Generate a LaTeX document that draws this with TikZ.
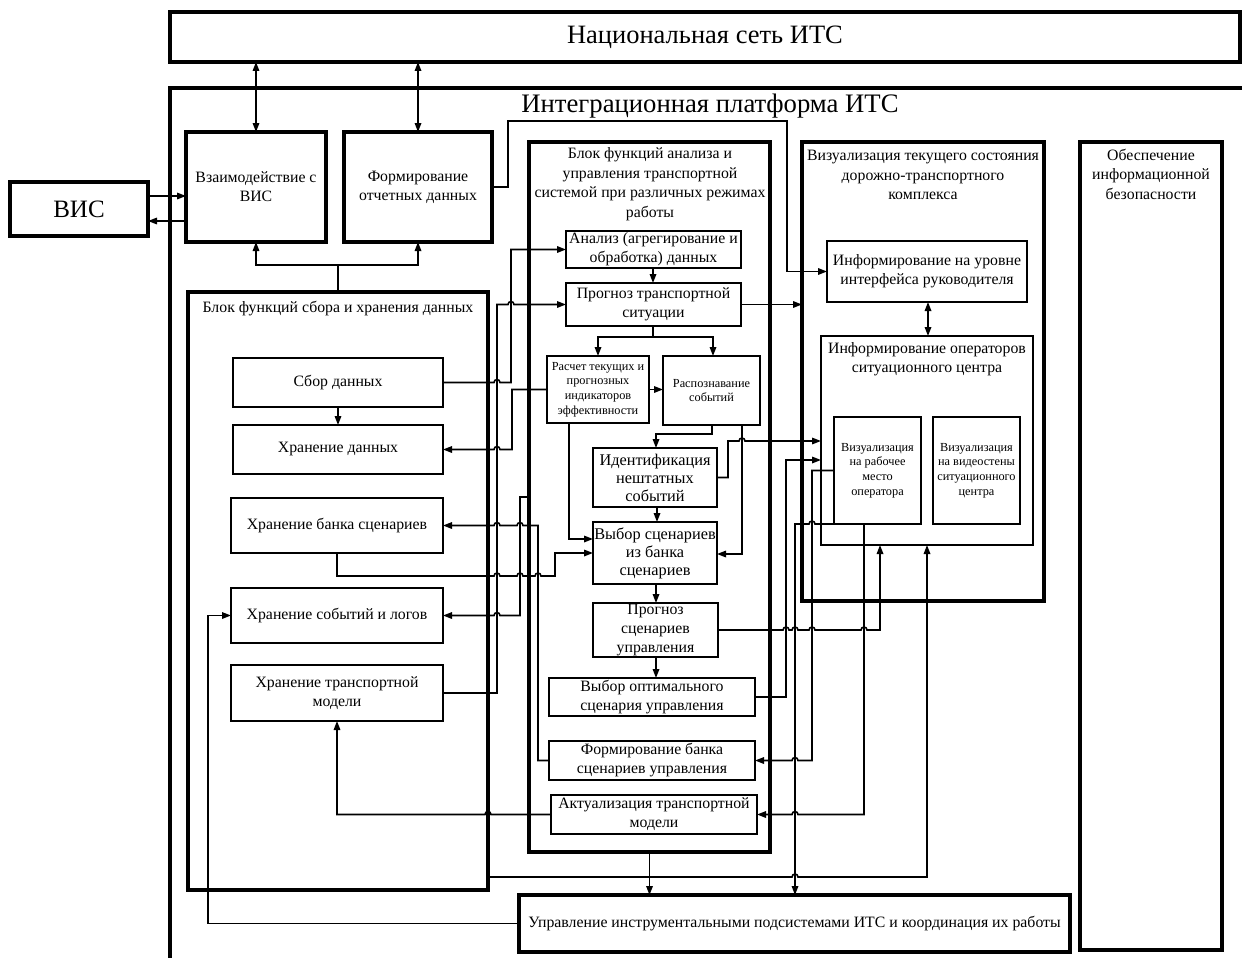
\documentclass[tikz,border=0pt]{standalone}
\usepackage{fontspec}
\setmainfont{Liberation Serif}
\usetikzlibrary{arrows.meta}
\newcommand\bx[7]{\node[#1,minimum width=#5pt-#3pt,minimum height=#6pt-#4pt] (#2) at ({(#3+#5)/2},{(#4+#6)/2}) {#7};}
\tikzset{
  blk/.style={draw,line width=3.1pt,inner sep=0pt,outer sep=0pt,align=center,font=\fontsize{15.8}{19}\selectfont},
  ibox/.style={draw,line width=2.5pt,inner sep=0pt,outer sep=0pt,align=center,font=\fontsize{15.8}{19}\selectfont},
  sfont/.style={font=\fontsize{12.3}{14.7}\selectfont},
  bfont/.style={font=\fontsize{16.3}{18}\selectfont},
  ttl/.style={align=center,inner sep=0pt,font=\fontsize{15.8}{19.5}\selectfont},
  wire/.style={line width=1.6pt},
  mytip/.tip={Triangle[length=9pt,width=6.5pt]},
  arr/.style={wire,-mytip},
  darr/.style={wire,mytip-mytip},
  hopr/.style args={#1/#2}{insert path={-- ({#1-3},#2) arc[start angle=180,end angle=0,radius=3pt]}},
  hopl/.style args={#1/#2}{insert path={-- ({#1+3},#2) arc[start angle=0,end angle=180,radius=3pt]}},
}
\begin{document}
\begin{tikzpicture}[x=1pt,y=-1pt]
\useasboundingbox (0,0) rectangle (1242,958);
% outer platform
\draw[line width=3.1pt] (170,965) -- (170,88) -- (1250,88);
\node[inner sep=0pt,font=\fontsize{26.7}{30}\selectfont] (plat) at (710,106) {Интеграционная платформа ИТС};
\bx{blk,font=\fontsize{26.5}{30}\selectfont}{natnet}{170}{12}{1240}{62}{Национальная сеть ИТС}
\bx{blk,font=\fontsize{25}{30}\selectfont}{vis}{10}{182}{148}{236}{ВИС}
\bx{blk}{vzaim}{186}{132}{326}{242}{Взаимодействие с\\ВИС}
\bx{blk}{form}{344}{132}{492}{242}{Формирование\\отчетных данных}
% left block
\bx{blk}{sblk}{188}{292}{488}{890}{}
\node[ttl] (sblkt) at (338,309) {Блок функций сбора и хранения данных};
\bx{ibox}{sbor}{233}{358}{443}{407}{Сбор данных}
\bx{ibox}{hran}{233}{425}{443}{474}{Хранение данных}
\bx{ibox}{bank}{231}{498}{443}{553}{Хранение банка сценариев}
\bx{ibox}{logs}{231}{588}{443}{643}{Хранение событий и логов}
\bx{ibox}{tmodel}{231}{665}{443}{721}{Хранение транспортной\\модели}
% center block
\bx{blk}{cblk}{529}{142}{770}{852}{}
\node[ttl] (cblkt) at (650,184) {Блок функций анализа и\\управления транспортной\\системой при различных режимах\\работы};
\bx{ibox}{analiz}{566}{231}{741}{268}{Анализ (агрегирование и\\обработка) данных}
\bx{ibox}{prognoz}{566}{283}{741}{326}{Прогноз транспортной\\ситуации}
\bx{ibox,sfont}{raschet}{547}{356}{649}{423}{Расчет текущих и\\прогнозных\\индикаторов\\эффективности}
\bx{ibox,sfont}{raspozn}{663}{356}{760}{425}{Распознавание\\событий}
\bx{ibox,bfont}{ident}{593}{448}{717}{507}{Идентификация\\нештатных\\событий}
\bx{ibox,bfont}{vybor}{593}{522}{717}{584}{Выбор сценариев\\из банка\\сценариев}
\bx{ibox}{progsc}{593}{603}{718}{657}{Прогноз\\сценариев\\управления}
\bx{ibox}{vybopt}{549}{678}{755}{716}{Выбор оптимального\\сценария управления}
\bx{ibox}{formbank}{549}{741}{755}{780}{Формирование банка\\сценариев управления}
\bx{ibox}{aktual}{551}{795}{757}{834}{Актуализация транспортной\\модели}
% visualisation block
\bx{blk}{vblk}{802}{142}{1044}{601}{}
\node[ttl] (vblkt) at (923,175) {Визуализация текущего состояния\\дорожно-транспортного\\комплекса};
\bx{ibox}{rukov}{827}{241}{1027}{302}{Информирование на уровне\\интерфейса руководителя}
\bx{ibox}{operators}{821}{336}{1033}{545}{}
\node[ttl] (operatorst) at (927,359) {Информирование операторов\\ситуационного центра};
\bx{ibox,sfont}{rab}{834}{417}{921}{524}{Визуализация\\на рабочее\\место\\оператора}
\bx{ibox,sfont}{video}{933}{417}{1020}{524}{Визуализация\\на видеостены\\ситуационного\\центра}
% security
\bx{blk}{sec}{1080}{142}{1222}{950}{}
\node[ttl] (sect) at (1151,174) {Обеспечение\\информационной\\безопасности};
% management
\bx{blk}{upr}{519}{895}{1070}{952}{Управление инструментальными подсистемами ИТС и координация их работы}

% ---- connectors ----
\draw[darr] (natnet.south -| vzaim.north) -- (vzaim.north);
\draw[darr] (natnet.south -| form.north) -- (form.north);
\draw[arr] (vis.east |- 0,196) -- (vzaim.west |- 0,196);
\draw[arr] (vzaim.west |- 0,221) -- (vis.east |- 0,221);
\draw[wire] (sblk.north) -- ++(0,-27);
\draw[darr] (vzaim.south) -- ++(0,23) -| (form.south);
\draw[arr] (form.east) -| (508,121) -| (787,250) |- (rukov.west);
% left side wires
\draw[arr] (sbor.east) [hopr=497/382.5] -- (511,382.5) |- (analiz.west);
\draw[arr] (tmodel.east) -- (497,693) -- (497,304.5) [hopr=511/304.5] -- (prognoz.west);
\draw[arr] (raschet.west) -- (512,389.5) -- (512,449.5) [hopl=497/449.5] -- (hran.east);
\draw[arr] (sbor.south) -- (hran.north);
\draw[arr] (bank.south) -- (337,576) [hopr=497/576] [hopr=520/576] [hopr=538/576] -- (555,576) |- (vybor.west);
\draw[arr] (formbank.west) -| (538,525.5) [hopl=520/525.5] [hopl=497/525.5] -- (bank.east);
\draw[arr] (cblk.west |- 0,497) -- (520,497) -- (520,615.5) [hopl=497/615.5] -- (logs.east);
\draw[arr] (aktual.west) [hopl=488/814.5] -| (tmodel.south);
\draw[arr] (sblk.east |- 0,877) [hopr=795/877] -| (operators.south);
\draw[arr] (cblk.south) -- (cblk.south |- upr.north);
\draw[arr] (upr.west) -| (208,615.5) -- (logs.west);
% center internal
\draw[arr] (analiz.south -| 653,0) -- (prognoz.north -| 653,0);
\draw[arr] (prognoz.south -| 653,0) -- (653,337) -| (598,356);
\draw[arr] (653,337) -| (713,356);
\draw[arr] (raschet.east) -- (raspozn.west |- raschet.east);
\draw[arr] (raspozn.south -| 712,0) -- (712,434) -| (656,448);
\draw[arr] (raschet.south -| 569,0) -- (569,539) -- (vybor.west |- 0,539);
\draw[arr] (raspozn.south -| 742,0) -- (742,554) -- (vybor.east |- 0,554);
\draw[arr] (ident.south -| 657,0) -- (vybor.north -| 657,0);
\draw[arr] (vybor.south -| 656,0) -- (progsc.north -| 656,0);
\draw[arr] (progsc.south -| 656,0) -- (vybopt.north -| 656,0);
% right side wires
\draw[arr] (prognoz.east) -- (vblk.west |- prognoz.east);
\draw[arr] (ident.east) -- (728,477.5) -- (728,441) [hopr=742/441] -- (operators.west |- 0,441);
\draw[arr] (vybopt.east) -| (786,460) -- (operators.west |- 0,460);
\draw[arr] (progsc.east) [hopr=786/630] [hopr=795/630] [hopr=812/630] [hopr=864/630] -| (880,545);
\draw[arr] (rab.south west) [hopl=812/524] -- (795,524) -- (795,895);
\draw[arr] (rab.west) -- (812,470.5) -- (812,760.5) [hopl=795/760.5] -- (formbank.east);
\draw[arr] (864,524) -- (864,814.5) [hopl=795/814.5] -- (aktual.east);
\draw[darr] (rukov.south -| 928,0) -- (operators.north -| 928,0);
\end{tikzpicture}
\end{document}
